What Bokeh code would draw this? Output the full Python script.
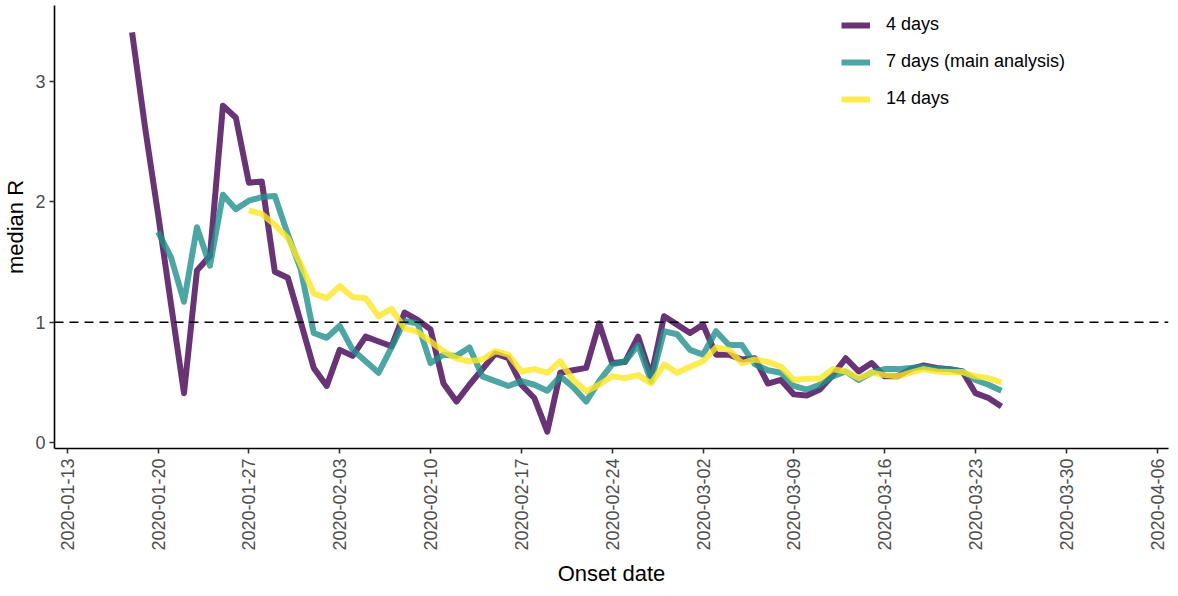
import math
import pandas as pd
from bokeh.plotting import figure
from bokeh.models import Range1d, FixedTicker, DatetimeTickFormatter, Span
from bokeh.embed import file_html
from bokeh.resources import INLINE

# ---- data ----
start_4d = "2020-01-18"
r_4days = [3.41, 2.62, 1.90, 1.15, 0.41, 1.43, 1.55, 2.80, 2.70, 2.16, 2.17, 1.42, 1.37, 1.00,
           0.62, 0.47, 0.77, 0.72, 0.88, 0.84, 0.80, 1.08, 1.02, 0.94, 0.49, 0.34, 0.48, 0.61,
           0.74, 0.70, 0.48, 0.37, 0.09, 0.58, 0.60, 0.62, 0.99, 0.66, 0.67, 0.88, 0.55, 1.05,
           0.98, 0.91, 0.98, 0.73, 0.73, 0.69, 0.70, 0.49, 0.52, 0.40, 0.39, 0.44, 0.56, 0.70,
           0.59, 0.66, 0.55, 0.55, 0.61, 0.64, 0.62, 0.61, 0.59, 0.41, 0.37, 0.30]

start_7d = "2020-01-20"
r_7days = [1.75, 1.54, 1.17, 1.79, 1.47, 2.06, 1.94, 2.01, 2.04, 2.05, 1.73, 1.44,
           0.91, 0.87, 0.97, 0.77, 0.675, 0.58, 0.79, 1.01, 0.99, 0.66, 0.73, 0.72, 0.79,
           0.55, 0.51, 0.47, 0.51, 0.48, 0.43, 0.55, 0.46, 0.34, 0.51, 0.65, 0.675, 0.81,
           0.51, 0.925, 0.90, 0.77, 0.73, 0.925, 0.81, 0.81, 0.65, 0.60, 0.58, 0.47, 0.44,
           0.48, 0.55, 0.59, 0.52, 0.58, 0.61, 0.61, 0.62, 0.63, 0.61, 0.61, 0.59, 0.52,
           0.48, 0.43]

start_14d = "2020-01-27"
r_14days = [1.93, 1.90, 1.81, 1.70, 1.48,
            1.24, 1.20, 1.30, 1.21, 1.20, 1.05, 1.11, 0.95, 0.92, 0.84, 0.76, 0.70, 0.675,
            0.69, 0.76, 0.73, 0.59, 0.61, 0.58, 0.675, 0.52, 0.425, 0.48, 0.55, 0.535, 0.56,
            0.49, 0.65, 0.58,
            0.63, 0.675, 0.79, 0.77, 0.66, 0.69, 0.67, 0.63, 0.52, 0.53, 0.53, 0.61, 0.59,
            0.535, 0.58, 0.56, 0.55, 0.58, 0.61, 0.59, 0.585, 0.585, 0.55, 0.535, 0.50]

series_labels = ["4 days", "7 days (main analysis)", "14 days"]
series_colors = ["#440154", "#21908C", "#FDE725"]

tick_labels = ["2020-01-13", "2020-01-20", "2020-01-27", "2020-02-03", "2020-02-10",
               "2020-02-17", "2020-02-24", "2020-03-02", "2020-03-09", "2020-03-16",
               "2020-03-23", "2020-03-30", "2020-04-06"]
y_ticks = [0, 1, 2, 3]
reference_R = 1

# ---- figure ----
FONT = "Liberation Sans"
x_start = pd.Timestamp("2020-01-12") + pd.Timedelta(hours=0.5)
x_end = pd.Timestamp("2020-04-06") + pd.Timedelta(hours=21)

p = figure(width=1170, height=588, x_axis_type="datetime",
           x_range=Range1d(x_start, x_end), y_range=Range1d(-0.05, 3.633),
           output_backend="svg", toolbar_location=None,
           min_border_left=48, min_border_right=2, min_border_top=5, min_border_bottom=140)
p.outline_line_color = None
p.xgrid.visible = False
p.ygrid.visible = False
p.background_fill_color = "white"
p.border_fill_color = "white"

span = Span(location=reference_R, dimension="width", line_color="black",
            line_dash="9 6", line_width=1.6)
p.add_layout(span)

for start, vals, lab, col in zip([start_4d, start_7d, start_14d],
                                 [r_4days, r_7days, r_14days],
                                 series_labels, series_colors):
    dates = pd.date_range(start, periods=len(vals), freq="D")
    p.line(dates, vals, line_color=col, line_alpha=0.8, line_width=6,
           line_join="round", legend_label=lab)

# axes
tick_ms = [pd.Timestamp(t).value / 1e6 for t in tick_labels]
p.xaxis.ticker = FixedTicker(ticks=tick_ms)
fmt = "%Y-%m-%d"
p.xaxis.formatter = DatetimeTickFormatter(days=fmt, months=fmt, years=fmt, hours=fmt,
                                          hourmin=fmt, minutes=fmt, minsec=fmt,
                                          seconds=fmt, milliseconds=fmt, microseconds=fmt,
                                          context=None)
p.xaxis.major_label_orientation = math.pi / 2
p.yaxis.ticker = FixedTicker(ticks=y_ticks)

for ax in (p.xaxis, p.yaxis):
    ax.axis_line_color = "black"
    ax.axis_line_width = 1.6
    ax.major_tick_line_color = "#333333"
    ax.major_tick_line_width = 1.6
    ax.major_tick_out = 5
    ax.major_tick_in = 0
    ax.minor_tick_line_color = None
    ax.major_label_text_font = FONT
    ax.major_label_text_font_size = "18px"
    ax.major_label_text_color = "#4d4d4d"
    ax.axis_label_text_font = FONT
    ax.axis_label_text_font_size = "22px"
    ax.axis_label_text_font_style = "normal"
    ax.axis_label_text_color = "black"

p.xaxis.axis_label = "Onset date"
p.yaxis.axis_label = "median R"
p.xaxis.major_label_standoff = 5
p.xaxis.axis_label_standoff = 7
p.yaxis.major_label_standoff = 4
p.yaxis.axis_label_standoff = 4

# legend
lg = p.legend[0]
lg.location = (787, 339)
lg.background_fill_alpha = 0
lg.border_line_color = None
lg.padding = 0
lg.margin = 0
lg.spacing = 16
lg.glyph_width = 29
lg.glyph_height = 20
lg.label_height = 20
lg.label_standoff = 16
lg.label_text_font = FONT
lg.label_text_font_size = "18px"
lg.label_text_color = "black"

open("out.html", "w").write(file_html(p, INLINE))
